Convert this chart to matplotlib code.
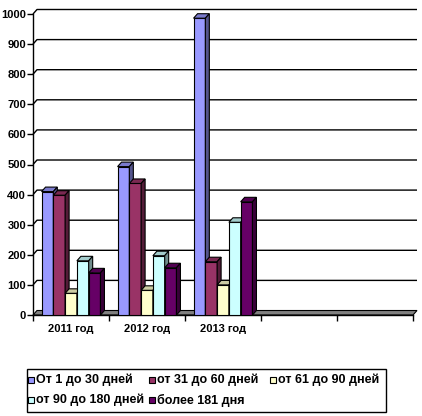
import matplotlib
matplotlib.use('Agg')
import matplotlib.pyplot as plt
from matplotlib.patches import Polygon, Rectangle
import numpy as np

# Data
categories = ['2011 год', '2012 год', '2013 год', '', '']
series_names = ['От 1 до 30 дней', 'от 31 до 60 дней', 'от 61 до 90 дней',
                'от 90 до 180 дней', 'более 181 дня']
d_1_30 = [410, 493, 986]
d_31_60 = [398, 437, 177]
d_61_90 = [72, 82, 100]
d_90_180 = [180, 197, 308]
d_181 = [140, 157, 376]
series = [d_1_30, d_31_60, d_61_90, d_90_180, d_181]
colors = ['#9999FF', '#993366', '#FFFFCC', '#CCFFFF', '#660066']
yticks = list(range(0, 1001, 100))

plt.rcParams['font.family'] = ['Liberation Sans', 'DejaVu Sans']
plt.rcParams['font.weight'] = 'bold'
plt.rcParams['font.size'] = 8

W, H = 422, 416
fig = plt.figure(figsize=(W / 100, H / 100), dpi=100)
fig.patch.set_facecolor('white')

# front plane of the plot in pixels
left, right, top, bottom = 33, 413, 14, 315
ax = fig.add_axes([left / W, 1 - bottom / H, (right - left) / W, (bottom - top) / H])
ncat = len(categories)
ax.set_xlim(0, ncat)
ax.set_ylim(0, 1000)
ax.set_facecolor('none')

# fake 3D depth (pixels -> data units)
px_x = ncat / (right - left)
px_y = 1000 / (bottom - top)
DX, DY = 4 * px_x, 4.5 * px_y


def shade(c, f):
    r, g, b = matplotlib.colors.to_rgb(c)
    return (r * f, g * f, b * f)


# back wall gridlines
for v in yticks[1:]:
    ax.plot([0, DX, ncat + DX], [v, v + DY, v + DY], color='black', lw=1,
            clip_on=False, zorder=1, solid_capstyle='butt')

# floor
floor = Polygon([(0, 0), (ncat, 0), (ncat + DX, DY), (DX, DY)], closed=True,
                facecolor='#808080', edgecolor='black', lw=0.8, clip_on=False, zorder=2)
ax.add_patch(floor)

# bars
nser = len(series)
bw = 0.155
x0 = np.arange(len(d_1_30)) + (1 - nser * bw) / 2
z = 3
for k in range(len(d_1_30)):
    for j, (vals, c) in enumerate(zip(series, colors)):
        xl = x0[k] + j * bw
        h = vals[k]
        ax.bar(xl, h, bw, align='edge', color=c, edgecolor='black', lw=0.8, zorder=z)
        ax.add_patch(Polygon([(xl, h), (xl + bw, h), (xl + bw + DX, h + DY), (xl + DX, h + DY)],
                             closed=True, facecolor=shade(c, 0.8), edgecolor='black',
                             lw=0.8, zorder=z, clip_on=False))
        ax.add_patch(Polygon([(xl + bw, 0), (xl + bw + DX, DY), (xl + bw + DX, h + DY), (xl + bw, h)],
                             closed=True, facecolor=shade(c, 0.55), edgecolor='black',
                             lw=0.8, zorder=z, clip_on=False))
        z += 1

# axes
for s in ['top', 'right']:
    ax.spines[s].set_visible(False)
ax.spines['left'].set_linewidth(1)
ax.spines['bottom'].set_linewidth(1)
ax.spines['left'].set_zorder(50)
ax.set_yticks(yticks)
ax.tick_params(axis='y', direction='out', length=4, width=1, pad=1, labelsize=8)
ax.set_xticks(range(ncat + 1))
ax.set_xticklabels([])
ax.set_xticks(np.arange(ncat) + 0.5, minor=True)
ax.set_xticklabels(categories, minor=True)
ax.tick_params(axis='x', which='major', direction='out', length=4.5, width=1)
ax.tick_params(axis='x', which='minor', length=0, pad=6.5, labelsize=8)

# legend box (Excel-like, uniform columns)
lx0, ly0, lx1, ly1 = 27, 369, 386, 412
fig.add_artist(Rectangle((lx0 / W, 1 - ly1 / H), (lx1 - lx0) / W, (ly1 - ly0) / H,
                         transform=fig.transFigure, facecolor='white', edgecolor='black', lw=1))
col_w = 121
for i, (name, c) in enumerate(zip(series_names, colors)):
    row, col = divmod(i, 3)
    mx = 28 + col * col_w
    my = 380 + row * 20
    fig.add_artist(Rectangle((mx / W, 1 - (my + 3) / H), 6 / W, 6 / H, transform=fig.transFigure,
                             facecolor=c, edgecolor='black', lw=0.8))
    fig.text((mx + 8) / W, 1 - my / H, name, ha='left', va='center', fontsize=9, fontweight='bold')

fig.savefig('out.png', dpi=100)
